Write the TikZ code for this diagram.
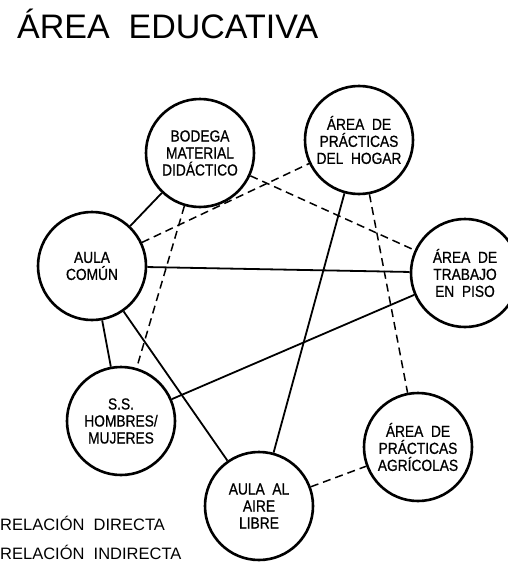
\documentclass[tikz,border=0pt]{standalone}
\usepackage{fontspec}
\setmainfont{Liberation Sans}
\newfontfamily\nodefont[FakeStretch=0.86,FakeBold=0.7]{Liberation Sans}
\begin{document}
\begin{tikzpicture}[x=1pt,y=-1pt,
  area/.style={circle,draw,line width=2.6pt,minimum size=108pt,inner sep=0pt,align=center,
    font=\nodefont\fontsize{16}{17}\selectfont},
  directa/.style={line width=1.8pt},
  indirecta/.style={line width=1.5pt,dash pattern=on 8pt off 5pt},
  plain/.style={anchor=base west,inner sep=0pt}]
\useasboundingbox (0,0) rectangle (508,562);
\begin{scope}
\clip (0,0) rectangle (508,562);
\node[plain,font=\fontsize{34}{34}\selectfont] (title) at (17,38) {ÁREA\ \ EDUCATIVA};

\node[area] (bodega) at (200,153) {BODEGA\\MATERIAL\\DIDÁCTICO};
\node[area] (hogar) at (359,140) {ÁREA\ \ DE\\PRÁCTICAS\\DEL\ \ HOGAR};
\node[area] (comun) at (92,266) {AULA\\COMÚN};
\node[area] (piso) at (465,273) {ÁREA\ \ DE\\TRABAJO\\EN\ \ PISO};
\node[area] (ss) at (121,421) {S.S.\\HOMBRES/\\MUJERES};
\node[area] (aire) at (259,506) {AULA\ \ AL\\AIRE\\LIBRE};
\node[area] (agri) at (418,447) {ÁREA\ \ DE\\PRÁCTICAS\\AGRÍCOLAS};

\draw[directa] (bodega) -- (comun);
\draw[directa] (comun) -- (piso);
\draw[directa] (comun) -- (ss);
\draw[directa] (comun) -- (aire);
\draw[directa] (ss) -- (piso);
\draw[directa] (hogar) -- (aire);

\draw[indirecta] (comun) -- (hogar);
\draw[indirecta] (bodega) -- (piso);
\draw[indirecta] (bodega) -- (ss);
\draw[indirecta] (hogar) -- (agri);
\draw[indirecta] (aire) -- (agri);

\node[plain,font=\fontsize{16.5}{16.5}\selectfont] (ley1) at (0,530) {RELACIÓN\ \ DIRECTA};
\node[plain,font=\fontsize{16.5}{16.5}\selectfont] (ley2) at (0,559) {RELACIÓN\ \ INDIRECTA};
\end{scope}
\end{tikzpicture}
\end{document}
